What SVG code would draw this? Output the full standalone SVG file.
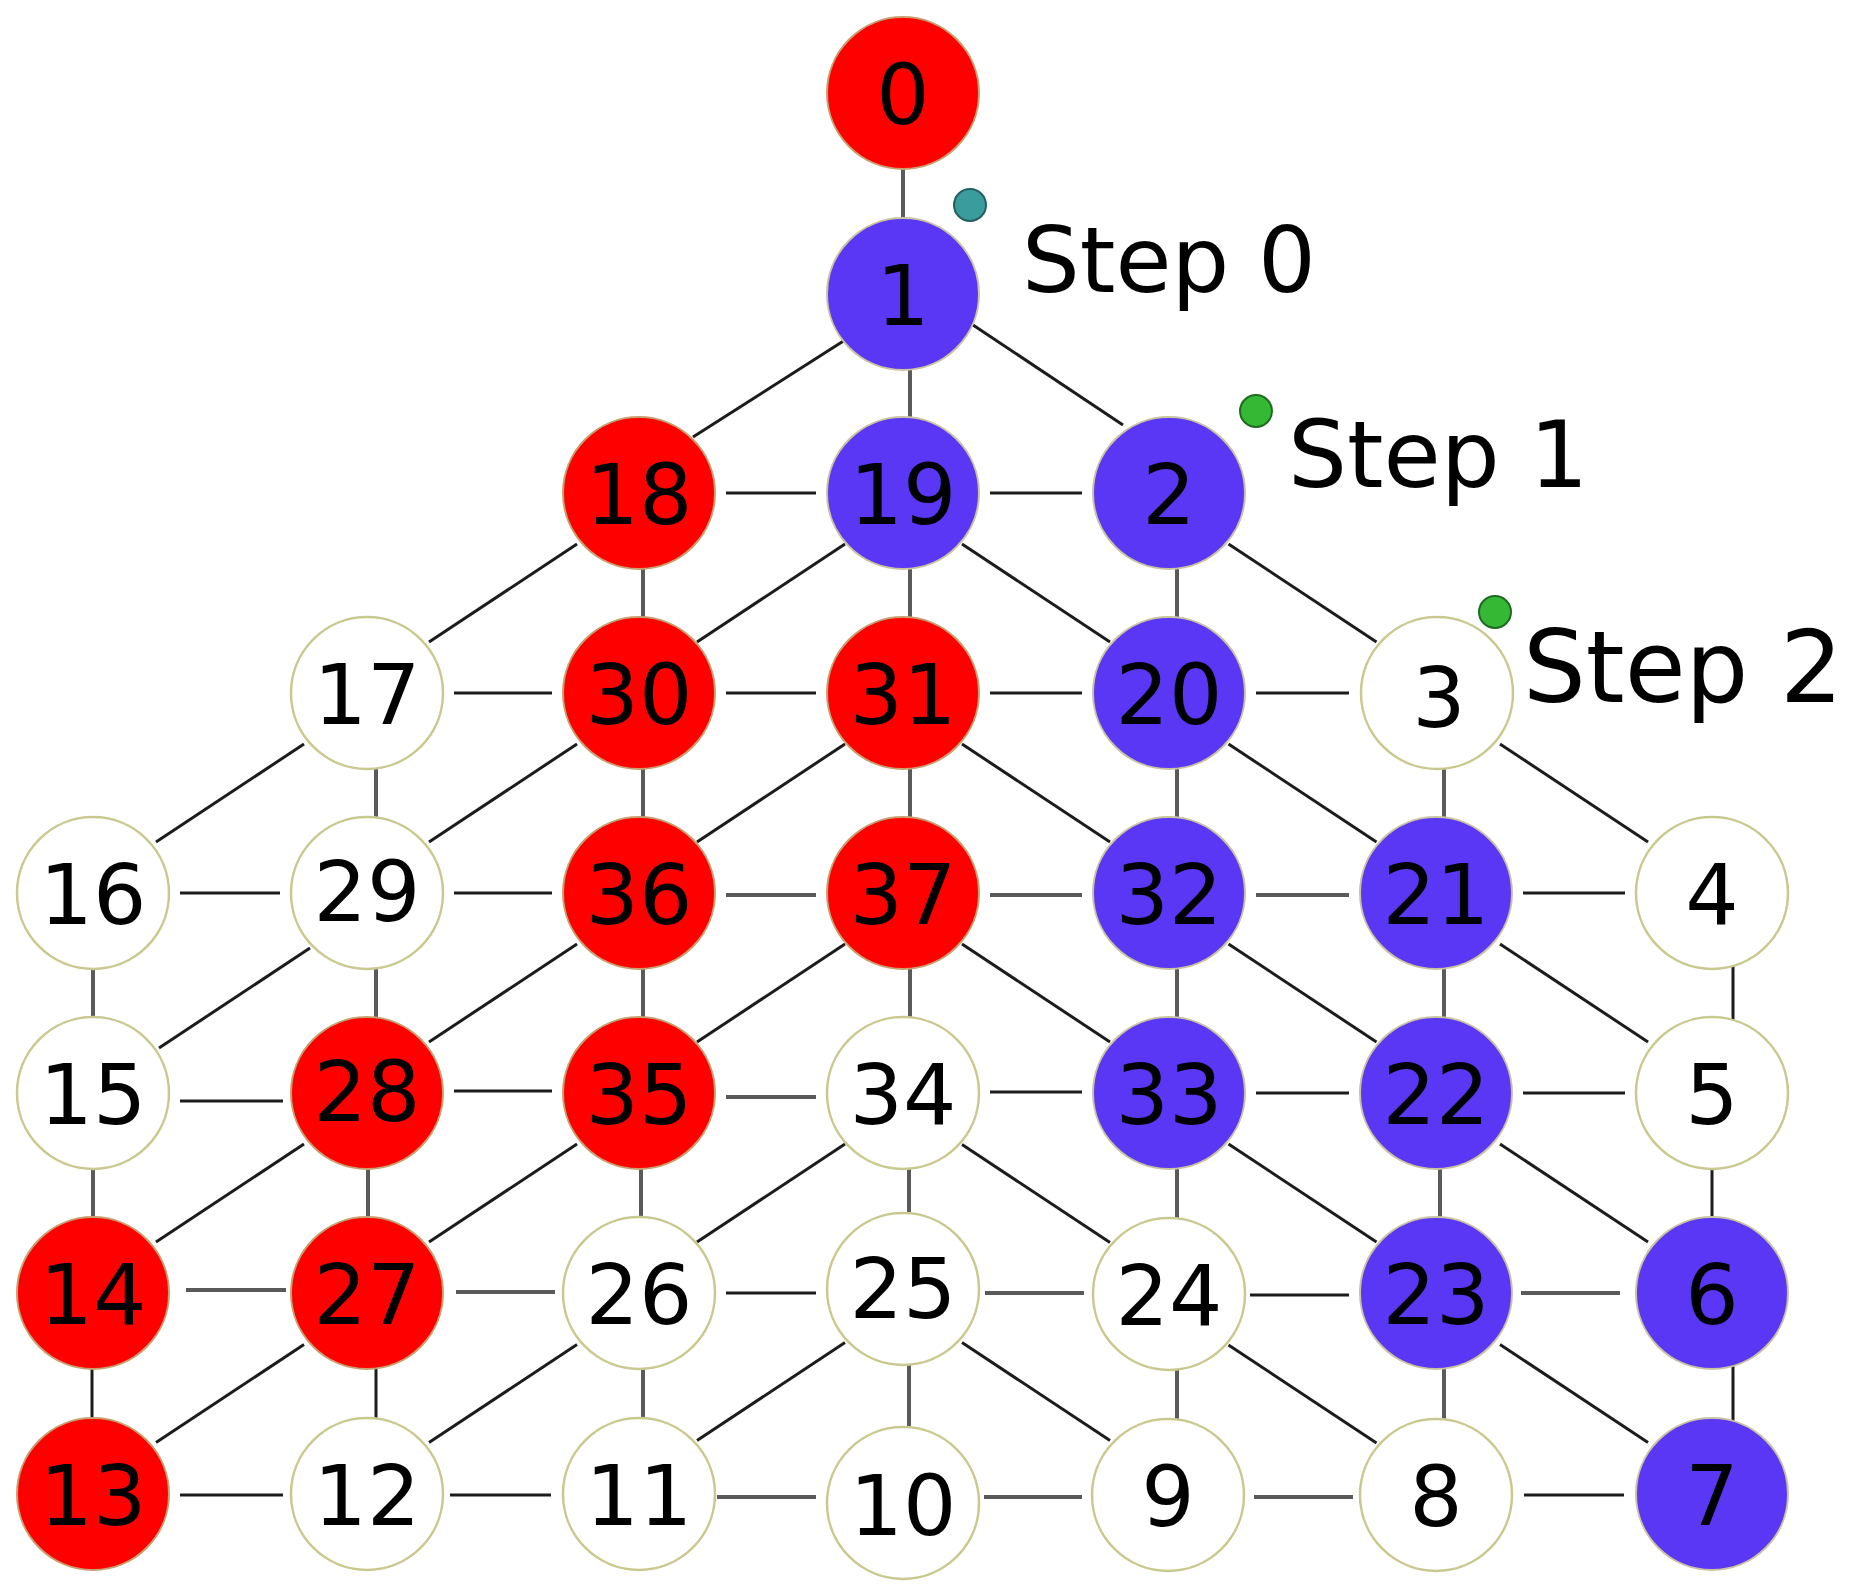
<svg xmlns="http://www.w3.org/2000/svg" width="1851" height="1593" viewBox="0 0 1851 1593">
<style>
.bg{fill:#ffffff}
.e{stroke:#1c1c1c;stroke-width:3;fill:none}
.g{stroke:#5a5a5a;stroke-width:4;fill:none}
.w{fill:#ffffff;stroke:#c9c98f;stroke-width:2.5}
.r{fill:#ff0000;stroke:#c8a070;stroke-width:2}
.b{fill:#5937f4;stroke:#c9c3a0;stroke-width:2}
.t{font-family:"DejaVu Sans","Liberation Sans",sans-serif;font-size:84px;fill:#000;text-anchor:middle}
.s{font-family:"DejaVu Sans","Liberation Sans",sans-serif;fill:#000}
.teal{fill:#3a9c9c;stroke:#24605e;stroke-width:2}
.grn{fill:#35b935;stroke:#1f6a1f;stroke-width:2}
</style>
<rect class="bg" x="0" y="0" width="1851" height="1593"/>
<g id="connectors">
<line class="g" x1="903" y1="93" x2="903" y2="294"/>
<line class="g" x1="910" y1="294" x2="910" y2="493"/>
<line class="g" x1="643" y1="493" x2="643" y2="693"/>
<line class="g" x1="910" y1="493" x2="910" y2="693"/>
<line class="g" x1="1177" y1="493" x2="1177" y2="693"/>
<line class="g" x1="376" y1="693" x2="376" y2="893"/>
<line class="g" x1="643" y1="693" x2="643" y2="893"/>
<line class="g" x1="910" y1="693" x2="910" y2="893"/>
<line class="g" x1="1177" y1="693" x2="1177" y2="893"/>
<line class="g" x1="1444" y1="693" x2="1444" y2="893"/>
<line class="g" x1="93" y1="893" x2="93" y2="1093"/>
<line class="g" x1="376" y1="893" x2="376" y2="1093"/>
<line class="g" x1="643" y1="893" x2="643" y2="1093"/>
<line class="g" x1="910" y1="893" x2="910" y2="1093"/>
<line class="g" x1="1177" y1="893" x2="1177" y2="1093"/>
<line class="g" x1="1444" y1="893" x2="1444" y2="1093"/>
<line class="e" x1="1733" y1="893" x2="1733" y2="1093"/>
<line class="g" x1="93" y1="1093" x2="93" y2="1293"/>
<line class="g" x1="368" y1="1093" x2="368" y2="1293"/>
<line class="g" x1="641" y1="1093" x2="641" y2="1293"/>
<line class="g" x1="909" y1="1093" x2="909" y2="1289"/>
<line class="g" x1="1177" y1="1093" x2="1177" y2="1294"/>
<line class="g" x1="1440" y1="1093" x2="1440" y2="1293"/>
<line class="e" x1="1712" y1="1093" x2="1712" y2="1293"/>
<line class="e" x1="92" y1="1293" x2="92" y2="1494"/>
<line class="e" x1="376" y1="1293" x2="376" y2="1494"/>
<line class="g" x1="643" y1="1293" x2="643" y2="1494"/>
<line class="g" x1="909" y1="1289" x2="909" y2="1503"/>
<line class="g" x1="1177" y1="1294" x2="1177" y2="1494"/>
<line class="g" x1="1444" y1="1293" x2="1444" y2="1494"/>
<line class="e" x1="1733" y1="1293" x2="1733" y2="1494"/>
<line class="e" x1="726" y1="493" x2="816" y2="493"/>
<line class="e" x1="990" y1="493" x2="1082" y2="493"/>
<line class="e" x1="454" y1="693" x2="552" y2="693"/>
<line class="e" x1="726" y1="693" x2="816" y2="693"/>
<line class="e" x1="990" y1="693" x2="1082" y2="693"/>
<line class="e" x1="1256" y1="693" x2="1349" y2="693"/>
<line class="e" x1="180" y1="893" x2="280" y2="893"/>
<line class="e" x1="454" y1="893" x2="552" y2="893"/>
<line class="g" x1="726" y1="895" x2="816" y2="895"/>
<line class="g" x1="990" y1="895" x2="1082" y2="895"/>
<line class="g" x1="1256" y1="895" x2="1349" y2="895"/>
<line class="e" x1="1523" y1="893" x2="1625" y2="893"/>
<line class="e" x1="180" y1="1101" x2="283" y2="1101"/>
<line class="e" x1="454" y1="1091" x2="552" y2="1091"/>
<line class="g" x1="726" y1="1097" x2="816" y2="1097"/>
<line class="e" x1="990" y1="1092" x2="1082" y2="1092"/>
<line class="e" x1="1256" y1="1093" x2="1349" y2="1093"/>
<line class="e" x1="1523" y1="1093" x2="1625" y2="1093"/>
<line class="g" x1="186" y1="1290" x2="286" y2="1290"/>
<line class="g" x1="456" y1="1292" x2="555" y2="1292"/>
<line class="e" x1="726" y1="1293" x2="816" y2="1293"/>
<line class="g" x1="985" y1="1293" x2="1084" y2="1293"/>
<line class="e" x1="1250" y1="1295" x2="1349" y2="1295"/>
<line class="g" x1="1521" y1="1293" x2="1620" y2="1293"/>
<line class="e" x1="180" y1="1495" x2="283" y2="1495"/>
<line class="e" x1="450" y1="1495" x2="551" y2="1495"/>
<line class="g" x1="717" y1="1497" x2="816" y2="1497"/>
<line class="g" x1="984" y1="1497" x2="1082" y2="1497"/>
<line class="g" x1="1254" y1="1497" x2="1353" y2="1497"/>
<line class="e" x1="1524" y1="1495" x2="1624" y2="1495"/>
<line class="e" x1="845" y1="340" x2="693" y2="437"/>
<line class="e" x1="577" y1="544" x2="429" y2="642"/>
<line class="e" x1="845" y1="544" x2="697" y2="642"/>
<line class="e" x1="304" y1="744" x2="156" y2="842"/>
<line class="e" x1="577" y1="744" x2="429" y2="842"/>
<line class="e" x1="845" y1="744" x2="697" y2="842"/>
<line class="e" x1="310" y1="948" x2="159" y2="1048"/>
<line class="e" x1="577" y1="944" x2="429" y2="1042"/>
<line class="e" x1="845" y1="944" x2="697" y2="1042"/>
<line class="e" x1="304" y1="1144" x2="156" y2="1242"/>
<line class="e" x1="577" y1="1144" x2="429" y2="1242"/>
<line class="e" x1="845" y1="1144" x2="697" y2="1242"/>
<line class="e" x1="304" y1="1344.5" x2="156" y2="1442.5"/>
<line class="e" x1="577" y1="1344.5" x2="429" y2="1442.5"/>
<line class="e" x1="845" y1="1342.5" x2="697" y2="1440.5"/>
<line class="e" x1="973" y1="325" x2="1123" y2="425"/>
<line class="e" x1="962" y1="544" x2="1110" y2="642"/>
<line class="e" x1="1228.5" y1="544" x2="1376.5" y2="642"/>
<line class="e" x1="962" y1="744" x2="1110" y2="842"/>
<line class="e" x1="1228.5" y1="744" x2="1376.5" y2="842"/>
<line class="e" x1="1500" y1="744" x2="1648" y2="842"/>
<line class="e" x1="962" y1="944" x2="1110" y2="1042"/>
<line class="e" x1="1228.5" y1="944" x2="1376.5" y2="1042"/>
<line class="e" x1="1500" y1="944" x2="1648" y2="1042"/>
<line class="e" x1="962" y1="1144.5" x2="1110" y2="1242.5"/>
<line class="e" x1="1228.5" y1="1144" x2="1376.5" y2="1242"/>
<line class="e" x1="1500" y1="1144" x2="1648" y2="1242"/>
<line class="e" x1="962" y1="1342.5" x2="1110" y2="1440.5"/>
<line class="e" x1="1228.5" y1="1345" x2="1376.5" y2="1443"/>
<line class="e" x1="1500" y1="1344.5" x2="1648" y2="1442.5"/>
</g>
<g id="n0"><circle class="r" cx="903" cy="93" r="76"/><text class="t" x="903" y="124">0</text></g>
<g id="n1"><circle class="b" cx="903" cy="294" r="76"/><text class="t" x="903" y="325">1</text></g>
<g id="n18"><circle class="r" cx="639" cy="493" r="76"/><text class="t" x="639" y="524">18</text></g>
<g id="n19"><circle class="b" cx="903" cy="493" r="76"/><text class="t" x="903" y="524">19</text></g>
<g id="n2"><circle class="b" cx="1169" cy="493" r="76"/><text class="t" x="1169" y="524">2</text></g>
<g id="n17"><circle class="w" cx="367" cy="693" r="76"/><text class="t" x="367" y="724">17</text></g>
<g id="n30"><circle class="r" cx="639" cy="693" r="76"/><text class="t" x="639" y="724">30</text></g>
<g id="n31"><circle class="r" cx="903" cy="693" r="76"/><text class="t" x="903" y="724">31</text></g>
<g id="n20"><circle class="b" cx="1169" cy="693" r="76"/><text class="t" x="1169" y="724">20</text></g>
<g id="n3"><circle class="w" cx="1437" cy="693" r="76"/><text class="t" x="1439" y="727">3</text></g>
<g id="n16"><circle class="w" cx="93" cy="893" r="76"/><text class="t" x="93" y="924">16</text></g>
<g id="n29"><circle class="w" cx="367" cy="893" r="76"/><text class="t" x="367" y="921">29</text></g>
<g id="n36"><circle class="r" cx="639" cy="893" r="76"/><text class="t" x="639" y="924">36</text></g>
<g id="n37"><circle class="r" cx="903" cy="893" r="76"/><text class="t" x="903" y="924">37</text></g>
<g id="n32"><circle class="b" cx="1169" cy="893" r="76"/><text class="t" x="1169" y="924">32</text></g>
<g id="n21"><circle class="b" cx="1436" cy="893" r="76"/><text class="t" x="1436" y="924">21</text></g>
<g id="n4"><circle class="w" cx="1712" cy="893" r="76"/><text class="t" x="1712" y="924">4</text></g>
<g id="n15"><circle class="w" cx="93" cy="1093" r="76"/><text class="t" x="93" y="1124">15</text></g>
<g id="n28"><circle class="r" cx="367" cy="1093" r="76"/><text class="t" x="367" y="1121">28</text></g>
<g id="n35"><circle class="r" cx="639" cy="1093" r="76"/><text class="t" x="639" y="1124">35</text></g>
<g id="n34"><circle class="w" cx="903" cy="1093" r="76"/><text class="t" x="903" y="1124">34</text></g>
<g id="n33"><circle class="b" cx="1169" cy="1093" r="76"/><text class="t" x="1169" y="1124">33</text></g>
<g id="n22"><circle class="b" cx="1436" cy="1093" r="76"/><text class="t" x="1436" y="1124">22</text></g>
<g id="n5"><circle class="w" cx="1712" cy="1093" r="76"/><text class="t" x="1712" y="1124">5</text></g>
<g id="n14"><circle class="r" cx="93" cy="1293" r="76"/><text class="t" x="93" y="1324">14</text></g>
<g id="n27"><circle class="r" cx="367" cy="1293" r="76"/><text class="t" x="367" y="1324">27</text></g>
<g id="n26"><circle class="w" cx="639" cy="1293" r="76"/><text class="t" x="639" y="1324">26</text></g>
<g id="n25"><circle class="w" cx="903" cy="1289" r="76"/><text class="t" x="903" y="1318">25</text></g>
<g id="n24"><circle class="w" cx="1169" cy="1294" r="76"/><text class="t" x="1169" y="1325">24</text></g>
<g id="n23"><circle class="b" cx="1436" cy="1293" r="76"/><text class="t" x="1436" y="1324">23</text></g>
<g id="n6"><circle class="b" cx="1712" cy="1293" r="76"/><text class="t" x="1712" y="1324">6</text></g>
<g id="n13"><circle class="r" cx="93" cy="1494" r="76"/><text class="t" x="93" y="1525">13</text></g>
<g id="n12"><circle class="w" cx="367" cy="1494" r="76"/><text class="t" x="367" y="1525">12</text></g>
<g id="n11"><circle class="w" cx="639" cy="1494" r="76"/><text class="t" x="639" y="1525">11</text></g>
<g id="n10"><circle class="w" cx="903" cy="1503" r="76"/><text class="t" x="903" y="1535">10</text></g>
<g id="n9"><circle class="w" cx="1168" cy="1495" r="76"/><text class="t" x="1168" y="1526">9</text></g>
<g id="n8"><circle class="w" cx="1436" cy="1495" r="76"/><text class="t" x="1436" y="1526">8</text></g>
<g id="n7"><circle class="b" cx="1712" cy="1494" r="76"/><text class="t" x="1712" y="1525">7</text></g>
<g id="step0"><circle class="teal" cx="970" cy="205" r="16"/><text class="s" x="1022" y="292" font-size="91">Step 0</text></g>
<g id="step1"><circle class="grn" cx="1256" cy="411" r="16"/><text class="s" x="1288" y="487" font-size="93">Step 1</text></g>
<g id="step2"><circle class="grn" cx="1495" cy="612" r="16"/><text class="s" x="1523" y="702" font-size="99">Step 2</text></g>
</svg>
